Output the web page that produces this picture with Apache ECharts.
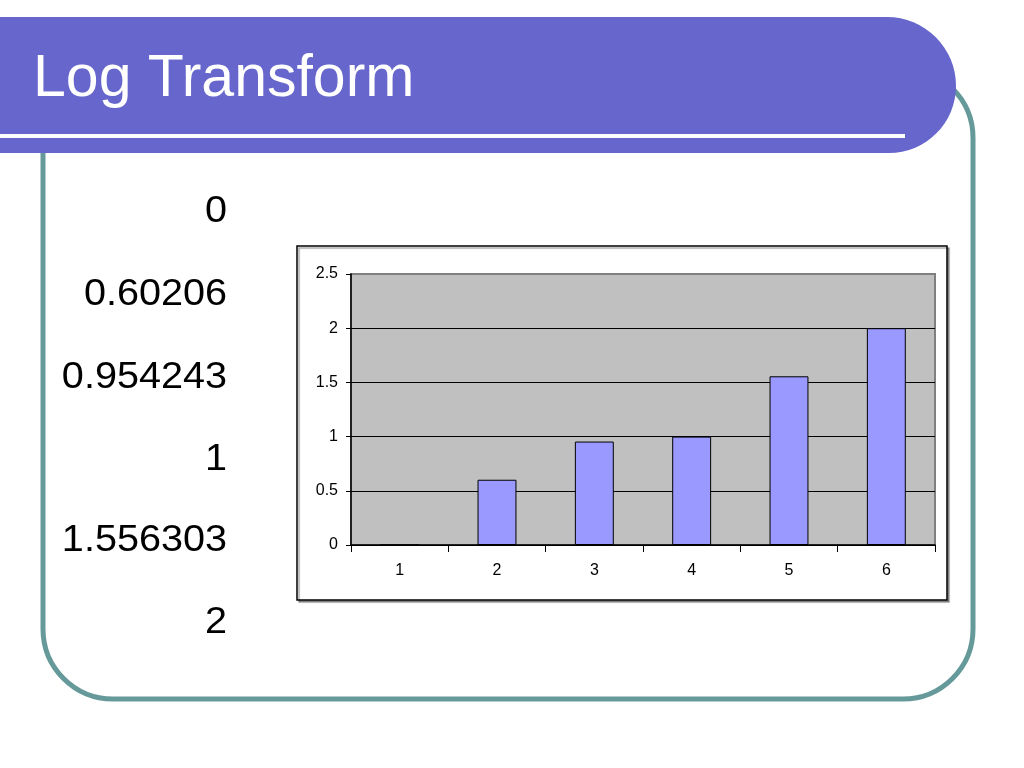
<!DOCTYPE html>
<html>
<head>
<meta charset="utf-8">
<script src="https://cdn.jsdelivr.net/npm/echarts@6/dist/echarts.min.js"></script>
<style>
html,body{margin:0;padding:0;background:#fff;}
#main{width:1024px;height:768px;}
</style>
</head>
<body>
<div id="main"></div>
<script>
var titleText = 'Log Transform';
var categories = ['1', '2', '3', '4', '5', '6'];
var logValues = [0, 0.60206, 0.954243, 1, 1.556303, 2];
var yTicks = [0, 0.5, 1, 1.5, 2, 2.5];

var chart = echarts.init(document.getElementById('main'), null, {renderer: 'canvas'});

var FONT = '"Liberation Sans", Arial, Helvetica, sans-serif';

var graphics = [
  // slide frame
  {type: 'rect', z: -20, shape: {x: 43, y: 68, width: 930, height: 631, r: 70},
   style: {fill: '#fff', stroke: '#669999', lineWidth: 5}},
  // title banner
  {type: 'rect', z: -10, shape: {x: -10, y: 17, width: 966, height: 136, r: [0, 70, 68, 0]},
   style: {fill: '#6666CC'}},
  {type: 'rect', z: -9, shape: {x: 0, y: 134, width: 905, height: 4},
   style: {fill: '#fff'}},
  {type: 'text', z: 10, x: 33, y: 80, style: {text: titleText, x: 0, y: 0, font: '59px ' + FONT,
   fill: '#fff', textAlign: 'left', verticalAlign: 'middle', textVerticalAlign: 'middle'}},
  // chart box
  {type: 'rect', z: -8, shape: {x: 297, y: 246, width: 650, height: 354},
   style: {fill: '#fff', stroke: '#000', lineWidth: 1.5,
           shadowColor: 'rgba(0,0,0,0.35)', shadowOffsetX: 2, shadowOffsetY: 2, shadowBlur: 1}}
];

var textCenters = [212, 295, 378, 460, 541, 623];
logValues.forEach(function (v, i) {
  graphics.push({type: 'text', z: 10, x: 227, y: textCenters[i], scaleX: 1.07, scaleY: 1,
    style: {text: String(v), x: 0, y: 0,
    font: '37px ' + FONT, fill: '#000', textAlign: 'right', verticalAlign: 'middle', textVerticalAlign: 'middle'}});
});

chart.setOption({
  animation: false,
  backgroundColor: '#fff',
  graphic: graphics,
  grid: {left: 351, top: 274, width: 584, height: 271, show: true,
         backgroundColor: '#C0C0C0', borderColor: '#808080', borderWidth: 2, containLabel: false},
  xAxis: {
    type: 'category', data: categories, boundaryGap: true,
    axisLine: {show: true, lineStyle: {color: '#000', width: 1.5}},
    axisTick: {show: true, inside: false, length: 7, alignWithLabel: false, lineStyle: {color: '#000'}},
    axisLabel: {color: '#000', fontSize: 16, fontFamily: FONT, margin: 18},
    splitLine: {show: false}
  },
  yAxis: {
    type: 'value', min: 0, max: 2.5, interval: 0.5,
    axisLine: {show: true, lineStyle: {color: '#000', width: 1.5}},
    axisTick: {show: true, inside: false, length: 5, lineStyle: {color: '#000'}},
    axisLabel: {color: '#000', fontSize: 16, fontFamily: FONT, margin: 13,
      formatter: function (v) { return String(v); }},
    splitLine: {show: true, showMaxLine: false, lineStyle: {color: '#000', width: 1.2}}
  },
  series: [{
    type: 'bar', data: logValues, barWidth: '40%',
    itemStyle: {color: '#9999FF', borderColor: '#000', borderWidth: 1}
  }]
});
</script>
</body>
</html>
